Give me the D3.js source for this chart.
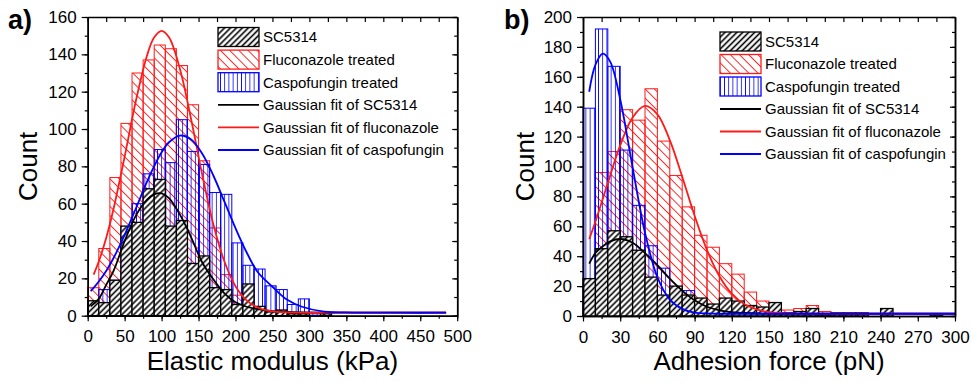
<!DOCTYPE html>
<html>
<head>
<meta charset="utf-8">
<script src="https://cdn.jsdelivr.net/npm/d3@7/dist/d3.min.js"></script>
<style>
  body { margin: 0; background: #fff; }
  svg text { font-family: "Liberation Sans", Arial, sans-serif; fill: #000; }
</style>
</head>
<body>
<svg id="figure" width="972" height="382"></svg>
<script>
// ---- panel a: elastic modulus histogram, 15 kPa bins ----
const elasticBins = [0, 15, 30, 45, 60, 75, 90, 105, 120, 135, 150, 165, 180, 195, 210, 225, 240, 255, 270, 285, 300, 315];
const elasticSC5314 = [8, 7, 19, 48, 50, 68, 73, 48, 51, 28, 32, 15, 14, 6, 17, 5, 2, 3, 1, 1, 0, 1];
const elasticFluconazole = [15, 36, 74, 103, 130, 137, 145, 143, 134, 113, 83, 47, 22, 11, 5, 4, 2, 3, 1, 0, 0, 0];
const elasticCaspofungin = [4, 14, 19, 47, 60, 76, 89, 82, 105, 88, 81, 66, 65, 39, 27, 25, 16, 14, 6, 9, 1, 0];

// gaussian fit curves
const elasticFitX = [4, 8, 15, 25, 35, 50, 65, 80, 90, 100, 110, 125, 140, 155, 170, 185, 200, 215, 230, 250, 270, 290, 320, 360, 420, 485];
const elasticFitSC5314 = [5.0, 6.3, 9, 16.5, 24, 40, 53.5, 62, 65, 65.5, 63, 54, 42, 28.5, 19.5, 12, 7.2, 4.8, 3.5, 2.5, 2.0, 1.8, 1.7, 1.6, 1.6, 1.6];
const elasticFitFluconazole = [null, 22.0, 29.0, 41.6, 57.3, 85.2, 114.7, 139.0, 149.1, 152.6, 149.1, 131.9, 105.1, 75.5, 49.0, 29.0, 15.8, 8.2, 4.4, 2.3, 1.8, 1.6, 1.6, 1.6, 1.6, 1.6];
const elasticFitCaspofungin = [13.2, 14.9, 18.3, 24.0, 30.9, 43.3, 57.3, 71.5, 80.1, 87.5, 92.9, 96.5, 94.4, 86.8, 75.1, 61.1, 46.9, 34.0, 23.4, 15.5, 8.5, 4.8, 2.2, 1.7, 1.6, 1.6];

const elasticXTicks = [0, 50, 100, 150, 200, 250, 300, 350, 400, 450, 500];
const elasticYTicks = [0, 20, 40, 60, 80, 100, 120, 140, 160];

// ---- panel b: adhesion force histogram, 10 pN bins ----
const adhesionBins = [0, 10, 20, 30, 40, 50, 60, 70, 80, 90, 100, 110, 120, 130, 140, 150, 160, 170, 180, 190, 200, 210, 220, 230, 240, 250, 260, 270, 280, 290];
const adhesionSC5314 = [25, 45, 57, 53, 44, 26, 14, 20, 14, 12, 8, 12, 10, 7, 6, 9, 2, 3, 5, 1, 2, 2, 2, 0, 5, 0, 0, 0, 1, 0];
const adhesionFluconazole = [10, 96, 110, 138, 131, 152, 117, 94, 73, 54, 46, 35, 28, 16, 10, 8, 4, 5, 7, 3, 2, 2, 2, 0, 1, 0, 0, 0, 0, 0];
const adhesionCaspofungin = [139, 192, 167, 111, 74, 47, 32, 8, 17, 3, 2, 1, 1, 0, 1, 0, 2, 1, 0, 0, 0, 0, 0, 0, 0, 0, 0, 0, 0, 0];

const adhesionFitX = [5, 10, 16, 22, 30, 40, 50, 60, 70, 80, 90, 100, 110, 120, 130, 145, 160, 180, 210, 250, 300];
const adhesionFitSC5314 = [35, 42.1, 46.7, 49.9, 51.5, 49.0, 42.1, 34, 25, 17, 10.5, 6.2, 3.8, 2.5, 2.0, 1.6, 1.5, 1.5, 1.5, 1.5, 1.5];
const adhesionFitFluconazole = [51.4, 63.1, 78.5, 94.2, 114.1, 132.8, 140.5, 134.9, 117.6, 93.2, 67.1, 44.1, 26.6, 14.9, 8.0, 3.3, 1.9, 1.6, 1.5, 1.5, 1.5];
const adhesionFitCaspofungin = [150, 168, 175.5, 170, 145, 99.4, 55.7, 25.9, 11, 4.8, 2.3, 1.7, 1.5, 1.5, 1.5, 1.5, 1.5, 1.5, 1.5, 1.5, 1.5];

const adhesionXTicks = [0, 30, 60, 90, 120, 150, 180, 210, 240, 270, 300];
const adhesionYTicks = [0, 20, 40, 60, 80, 100, 120, 140, 160, 180, 200];

const legendLabels = ["SC5314", "Fluconazole treated", "Caspofungin treated",
  "Gaussian fit of SC5314", "Gaussian fit of fluconazole", "Gaussian fit of caspofungin"];

const BLACK = "#000000";
const RED = "#ff1a1a";
const BLUE = "#0000ff";
const FONT = "'Liberation Sans', Arial, sans-serif";

const svg = d3.select("#figure");

// hatch patterns: black "////" on white, red "\\\\", blue vertical lines
const defs = svg.append("defs");
function addHatch(id, color, size, width, angle, background) {
  const p = defs.append("pattern")
    .attr("id", id)
    .attr("patternUnits", "userSpaceOnUse")
    .attr("width", size)
    .attr("height", size)
    .attr("patternTransform", "rotate(" + angle + ")");
  if (background) {
    p.append("rect").attr("width", size).attr("height", size).attr("fill", background);
  }
  p.append("line")
    .attr("x1", size / 2).attr("y1", 0)
    .attr("x2", size / 2).attr("y2", size)
    .attr("stroke", color)
    .attr("stroke-width", width);
}
addHatch("hatchBlack", BLACK, 4.2, 1.6, 45, "#fff");
addHatch("hatchRed", RED, 6.5, 0.9, -45, null);
addHatch("hatchBlue", BLUE, 4.2, 0.8, 0, null);

const panels = [
  {
    label: "a)", title: "Elastic modulus (kPa)",
    bins: elasticBins, sc: elasticSC5314, flu: elasticFluconazole, cas: elasticCaspofungin,
    fitX: elasticFitX, fitSC: elasticFitSC5314, fitFlu: elasticFitFluconazole, fitCas: elasticFitCaspofungin,
    xTicks: elasticXTicks, yTicks: elasticYTicks, xMinorStep: 25, yMinorStep: 10,
    xRange: [87.7, 457.2], yRange: [315.7, 17],
    labelX: 8, countX: 37, legendX: 218, legendY: 37, legendStep: 22.6
  },
  {
    label: "b)", title: "Adhesion force (pN)",
    bins: adhesionBins, sc: adhesionSC5314, flu: adhesionFluconazole, cas: adhesionCaspofungin,
    fitX: adhesionFitX, fitSC: adhesionFitSC5314, fitFlu: adhesionFitFluconazole, fitCas: adhesionFitCaspofungin,
    xTicks: adhesionXTicks, yTicks: adhesionYTicks, xMinorStep: 15, yMinorStep: 10,
    xRange: [583, 955], yRange: [316, 17],
    labelX: 504, countX: 534, legendX: 720, legendY: 41.5, legendStep: 22.5
  }
];

panels.forEach(drawPanel);

function drawPanel(p) {
  const xTicks = p.xTicks, yTicks = p.yTicks;
  const x = d3.scaleLinear().domain([xTicks[0], xTicks[xTicks.length - 1]]).range(p.xRange);
  const y = d3.scaleLinear().domain([yTicks[0], yTicks[yTicks.length - 1]]).range(p.yRange);
  const binWidth = p.bins[1] - p.bins[0];
  const g = svg.append("g");

  // histogram bars: red, blue (transparent hatch), black on top (white background)
  const series = [
    { values: p.flu, fill: "url(#hatchRed)", stroke: RED, sw: 1 },
    { values: p.cas, fill: "url(#hatchBlue)", stroke: BLUE, sw: 1 },
    { values: p.sc, fill: "url(#hatchBlack)", stroke: BLACK, sw: 1.3 }
  ];
  series.forEach(s => {
    const data = p.bins.map((b, i) => ({ bin: b, value: s.values[i] })).filter(d => d.value > 0);
    g.append("g").selectAll("rect")
      .data(data)
      .enter()
      .append("rect")
      .attr("x", d => x(d.bin))
      .attr("y", d => y(d.value))
      .attr("width", d => x(d.bin + binWidth) - x(d.bin))
      .attr("height", d => y(0) - y(d.value))
      .attr("fill", s.fill)
      .attr("stroke", s.stroke)
      .attr("stroke-width", s.sw);
  });

  // gaussian fits
  const line = d3.line()
    .defined(d => d[1] != null)
    .x(d => x(d[0]))
    .y(d => y(d[1]))
    .curve(d3.curveCatmullRom.alpha(0.5));
  [[p.fitSC, BLACK], [p.fitFlu, RED], [p.fitCas, BLUE]].forEach(([vals, color]) => {
    g.append("path")
      .datum(p.fitX.map((v, i) => [v, vals[i]]))
      .attr("d", line)
      .attr("fill", "none")
      .attr("stroke", color)
      .attr("stroke-width", 1.8);
  });

  // axes: outward ticks bottom/left, inward ticks top/right
  const xMinor = d3.range(xTicks[0], xTicks[xTicks.length - 1] + 1, p.xMinorStep);
  const yMinor = d3.range(yTicks[0], yTicks[yTicks.length - 1] + 1, p.yMinorStep);
  const y0 = p.yRange[0], yTop = p.yRange[1], xLeft = p.xRange[0], xRight = p.xRange[1];

  const axes = [
    [d3.axisBottom(x).tickValues(xMinor).tickSize(3).tickFormat(""), "translate(0," + y0 + ")"],
    [d3.axisBottom(x).tickValues(xTicks).tickSize(5.5).tickPadding(9), "translate(0," + y0 + ")"],
    [d3.axisTop(x).tickValues(xMinor).tickSize(-5).tickFormat(""), "translate(0," + yTop + ")"],
    [d3.axisLeft(y).tickValues(yMinor).tickSize(3).tickFormat(""), "translate(" + xLeft + ",0)"],
    [d3.axisLeft(y).tickValues(yTicks).tickSize(6).tickPadding(5), "translate(" + xLeft + ",0)"],
    [d3.axisRight(y).tickValues(yMinor).tickSize(-3).tickFormat(""), "translate(" + xRight + ",0)"],
    [d3.axisRight(y).tickValues(yTicks).tickSize(-5).tickFormat(""), "translate(" + xRight + ",0)"]
  ];
  axes.forEach(([axis, tr]) => {
    const a = g.append("g")
      .attr("transform", tr)
      .call(axis.tickSizeOuter(0));
    a.select(".domain").attr("stroke", "#000").attr("stroke-width", 1.5);
    a.selectAll(".tick line").attr("stroke", "#000").attr("stroke-width", 1.2);
    a.selectAll("text").attr("font-size", 17).attr("font-family", FONT).attr("fill", "#000");
  });

  // titles
  g.append("text")
    .attr("x", (xLeft + xRight) / 2)
    .attr("y", 370)
    .attr("text-anchor", "middle")
    .attr("font-size", 26)
    .text(p.title);
  g.append("text")
    .attr("transform", "translate(" + p.countX + "," + ((y0 + yTop) / 2) + ")rotate(-90)")
    .attr("text-anchor", "middle")
    .attr("font-size", 26)
    .text("Count");
  g.append("text")
    .attr("x", p.labelX)
    .attr("y", 29)
    .attr("font-size", 27)
    .attr("font-weight", "bold")
    .text(p.label);

  // legend
  const swatches = [
    { fill: "url(#hatchBlack)", stroke: BLACK },
    { fill: "url(#hatchRed)", stroke: RED },
    { fill: "url(#hatchBlue)", stroke: BLUE }
  ];
  const lineColors = [BLACK, RED, BLUE];
  legendLabels.forEach((label, i) => {
    const cy = p.legendY + i * p.legendStep;
    if (i < 3) {
      g.append("rect")
        .attr("x", p.legendX).attr("y", cy - 9.5)
        .attr("width", 41).attr("height", 19)
        .attr("fill", swatches[i].fill)
        .attr("stroke", swatches[i].stroke)
        .attr("stroke-width", 1.3);
    } else {
      g.append("line")
        .attr("x1", p.legendX).attr("x2", p.legendX + 41)
        .attr("y1", cy).attr("y2", cy)
        .attr("stroke", lineColors[i - 3])
        .attr("stroke-width", 1.8);
    }
    g.append("text")
      .attr("x", p.legendX + 45)
      .attr("y", cy + 5.4)
      .attr("font-size", 15)
      .text(label);
  });
}
</script>
</body>
</html>
